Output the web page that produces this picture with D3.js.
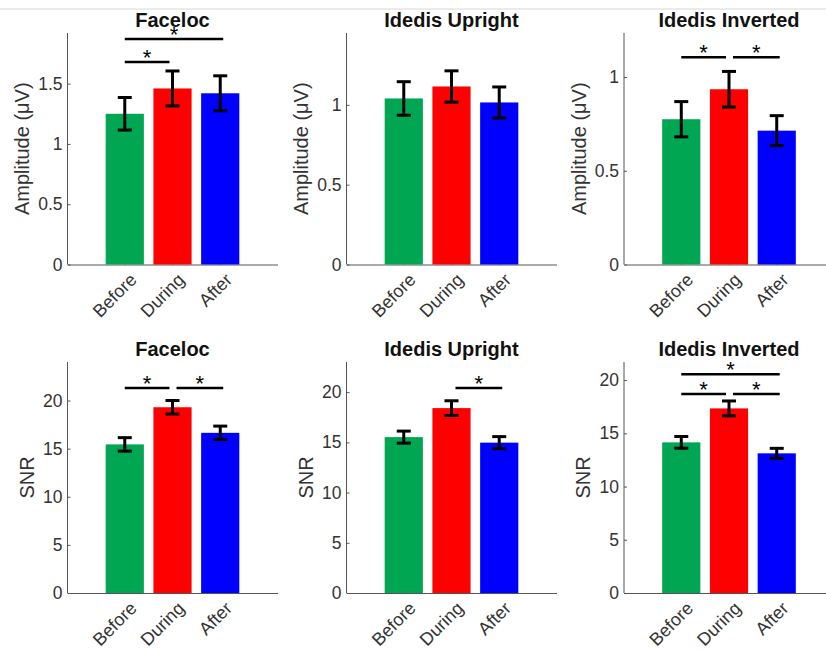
<!DOCTYPE html>
<html>
<head>
<meta charset="utf-8">
<script src="https://cdn.jsdelivr.net/npm/d3@7"></script>
<style>
  html, body { margin: 0; padding: 0; background: #fff; }
  svg { display: block; font-family: "Liberation Sans", Arial, sans-serif; }
  .axis path, .axis line { stroke: #555; stroke-width: 1; }
  .axis text { fill: #333; }
</style>
</head>
<body>
<div id="chart"></div>
<script>
// data
const categories = ["Before", "During", "After"];
const titles     = ["Faceloc", "Idedis Upright", "Idedis Inverted"];
const barColors  = ["#00a651", "#ff0000", "#0000ff"];

// amplitude (µV), baris atas
const ampMean  = [[1.25, 1.46, 1.42], [1.04, 1.115, 1.015], [0.775, 0.935, 0.714]];
const ampErr   = [[0.135, 0.145, 0.145], [0.105, 0.098, 0.097], [0.094, 0.095, 0.08]];
const ampYMax  = [1.92, 1.45, 1.235];
const ampTicks = [[0, 0.5, 1, 1.5], [0, 0.5, 1], [0, 0.5, 1]];
// [dari, ke, tinggi garis]
const ampSig   = [[[1, 3, 1.87], [1, 2, 1.68]], [], [[1, 2, 1.105], [2, 3, 1.105]]];

// SNR, baris bawah
const snrMean  = [[15.44, 19.3, 16.64], [15.52, 18.41, 14.97], [14.15, 17.34, 13.12]];
const snrErr   = [[0.7, 0.7, 0.7], [0.6, 0.73, 0.6], [0.55, 0.7, 0.47]];
const snrYMax  = [24, 23, 21.7];
const snrTicks = [[0, 5, 10, 15, 20], [0, 5, 10, 15, 20], [0, 5, 10, 15, 20]];
const snrSig   = [[[1, 2, 21.3], [2, 3, 21.3]], [[2, 3, 20.4]], [[1, 3, 20.55], [1, 2, 18.7], [2, 3, 18.7]]];

const rows = [
  { label: "Amplitude (\u03bcV)", mean: ampMean, err: ampErr, yMax: ampYMax, ticks: ampTicks, sig: ampSig },
  { label: "SNR",                 mean: snrMean, err: snrErr, yMax: snrYMax, ticks: snrTicks, sig: snrSig }
];

// layout
const W = 826, H = 650;
const colX   = [67.5, 346.5, 624];
const plotW  = 210;
const rowTop = [33, 362];
const rowBot = [264.5, 593];

const svg = d3.select("#chart").append("svg")
  .attr("width", W)
  .attr("height", H);

// garis tipis di atas
svg.append("line")
  .attr("x1", 0).attr("x2", W)
  .attr("y1", 9).attr("y2", 9)
  .attr("stroke", "#e4e4e4")
  .attr("stroke-width", 1.5);

rows.forEach((row, r) => {
  titles.forEach((title, c) => {
    const g = svg.append("g")
      .attr("transform", `translate(${colX[c]},${rowTop[r]})`);
    const h = rowBot[r] - rowTop[r];

    const x = d3.scaleLinear().domain([-0.2, 4.2]).range([0, plotW]);
    const y = d3.scaleLinear().domain([0, row.yMax[c]]).range([h, 0]);
    const bw = x(0.8) - x(0);

    const data = categories.map((cat, i) => ({
      i: i + 1, cat, mean: row.mean[c][i], err: row.err[c][i], color: barColors[i]
    }));

    // sumbu x
    const xAxis = g.append("g")
      .attr("class", "axis")
      .attr("transform", `translate(0,${h})`)
      .call(d3.axisBottom(x)
        .tickValues([1, 2, 3])
        .tickSizeInner(-3)
        .tickSizeOuter(0)
        .tickFormat(d => categories[d - 1]));

    xAxis.selectAll("text")
      .attr("font-size", "18px")
      .attr("text-anchor", "end")
      .attr("y", 0)
      .attr("dy", "0.35em")
      .attr("transform", "translate(8,12) rotate(-45)");

    // sumbu y
    const yAxis = g.append("g")
      .attr("class", "axis")
      .call(d3.axisLeft(y)
        .tickValues(row.ticks[c])
        .tickSizeInner(-3)
        .tickSizeOuter(0)
        .tickPadding(5)
        .tickFormat(d3.format("~g")));
    yAxis.select(".domain").attr("d", `M0,${h}V0`);
    yAxis.selectAll("text").attr("font-size", "17.5px");

    // label y, posisi tergantung lebar angka
    let maxW = 0;
    yAxis.selectAll("text").each(function() {
      maxW = Math.max(maxW, this.getBBox().width);
    });
    g.append("text")
      .attr("transform", `translate(${-5 - maxW - 9},${h / 2}) rotate(-90)`)
      .attr("text-anchor", "middle")
      .attr("font-size", "20px")
      .attr("fill", "#333")
      .text(row.label);

    // judul
    g.append("text")
      .attr("x", plotW / 2)
      .attr("y", -6.5)
      .attr("text-anchor", "middle")
      .attr("font-size", "20px")
      .attr("font-weight", "bold")
      .attr("fill", "#111")
      .text(title);

    // batang
    g.selectAll(".bar")
      .data(data)
      .enter()
      .append("rect")
      .attr("class", "bar")
      .attr("x", d => x(d.i) - bw / 2)
      .attr("y", d => y(d.mean))
      .attr("width", bw)
      .attr("height", d => h - y(d.mean))
      .attr("fill", d => d.color);

    // error bar
    const eb = g.selectAll(".err")
      .data(data)
      .enter()
      .append("g")
      .attr("class", "err")
      .attr("stroke", "#000")
      .attr("stroke-width", 3);
    eb.append("line")
      .attr("x1", d => x(d.i)).attr("x2", d => x(d.i))
      .attr("y1", d => y(d.mean + d.err)).attr("y2", d => y(d.mean - d.err));
    eb.append("line")
      .attr("x1", d => x(d.i) - 7).attr("x2", d => x(d.i) + 7)
      .attr("y1", d => y(d.mean + d.err)).attr("y2", d => y(d.mean + d.err));
    eb.append("line")
      .attr("x1", d => x(d.i) - 7).attr("x2", d => x(d.i) + 7)
      .attr("y1", d => y(d.mean - d.err)).attr("y2", d => y(d.mean - d.err));

    // tanda signifikan
    row.sig[c].forEach(([a, b, v]) => {
      const x1 = x(a) + (a > 1 ? 4 : 0);
      const x2 = x(b) + (b < 3 ? -3 : 3);
      g.append("line")
        .attr("x1", x1).attr("x2", x2)
        .attr("y1", y(v)).attr("y2", y(v))
        .attr("stroke", "#000")
        .attr("stroke-width", 2.5);
      g.append("text")
        .attr("x", (x1 + x2) / 2)
        .attr("y", y(v) + 3)
        .attr("text-anchor", "middle")
        .attr("font-size", "22px")
        .attr("fill", "#000")
        .text("*");
    });
  });
});
</script>
</body>
</html>
